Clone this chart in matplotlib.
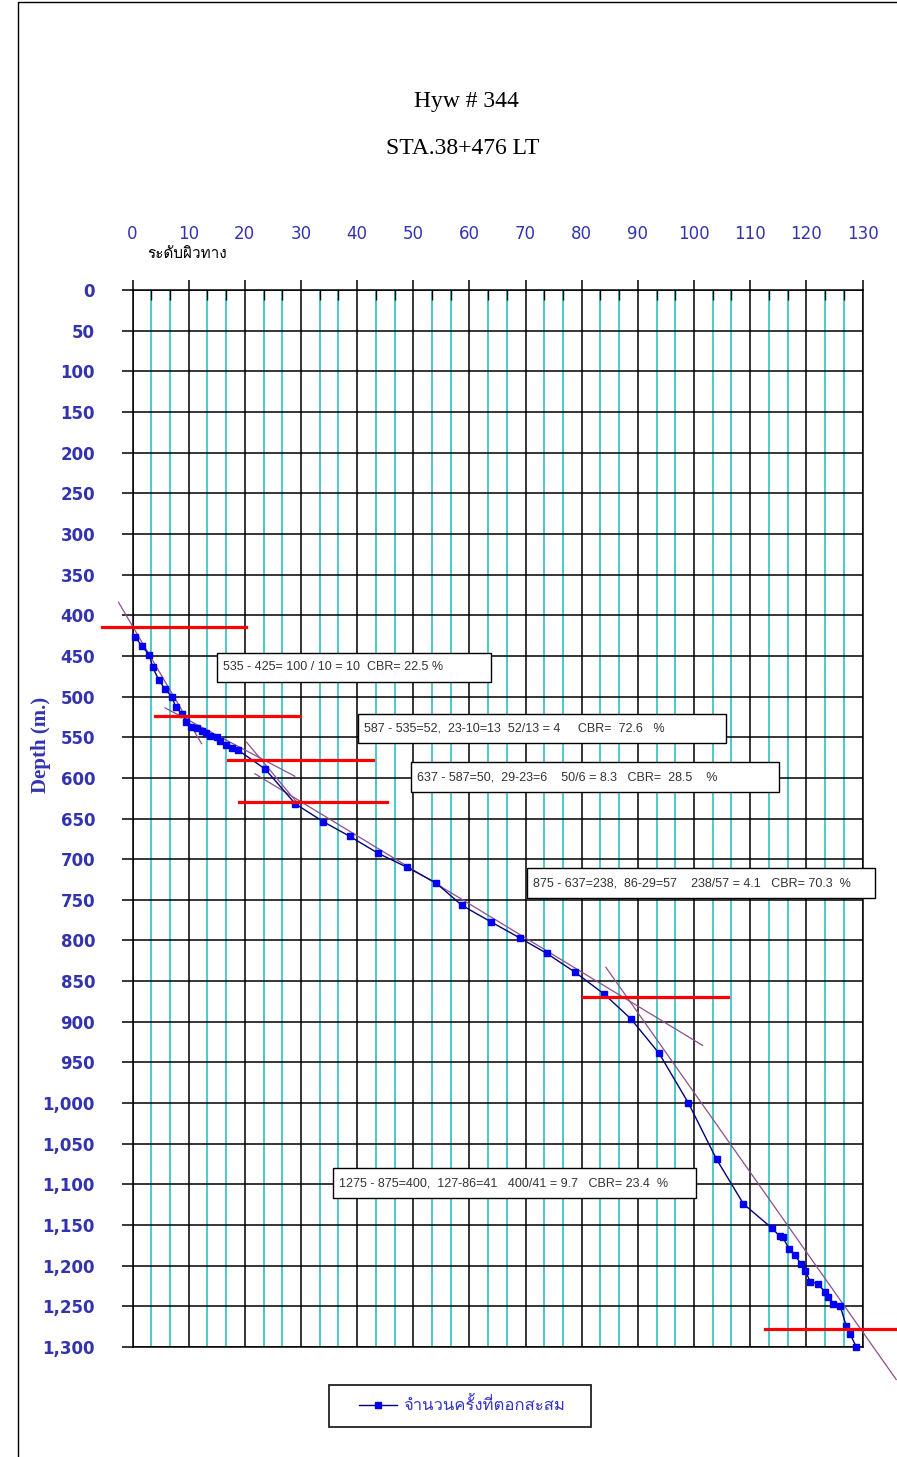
import matplotlib
matplotlib.use('Agg')
import matplotlib.pyplot as plt
from matplotlib import font_manager
from matplotlib.ft2font import FT2Font
from matplotlib.patches import Rectangle
from matplotlib.ticker import FixedLocator, FuncFormatter


# cumulative blow count vs penetration depth (mm)
blows = [0.5, 1.7, 3.0, 3.6, 4.7, 5.8, 7.0, 7.7, 8.8, 9.6,
         10.5, 11.4, 12.3, 13.1, 13.8, 15.0, 15.6, 16.6, 17.8, 18.8,
         23.6, 29.0, 34.0, 38.7, 43.8, 48.9, 54.0, 58.7, 63.8, 69.0,
         73.8, 78.8, 84.0, 88.7, 93.8, 99.0, 104.0, 108.8, 113.9, 115.3,
         115.8, 116.9, 117.9, 119.1, 119.8, 120.7, 122.0, 123.3, 123.8, 124.8,
         126.0, 127.1, 127.8, 128.9]
depth = [427, 438, 449, 464, 480, 491, 500, 513, 521, 531,
         537, 539, 542, 545, 548, 550, 555, 560, 563, 566,
         589, 632, 654, 672, 693, 710, 729, 757, 777, 797,
         816, 839, 866, 896, 939, 1000, 1069, 1124, 1154, 1164,
         1165, 1179, 1187, 1198, 1206, 1220, 1222, 1232, 1239, 1247,
         1249, 1274, 1284, 1300]

# layer boundaries (red markers)
layer_depth = [415, 524, 578, 630, 870, 1278]
layer_x0 = [-5.5, 4.0, 17.0, 19.0, 80.2, 112.6]
layer_x1 = [20.3, 29.8, 42.9, 45.4, 106.1, 137.0]

# slope lines for each layer (x0, d0, x1, d1)
slope_x0 = [-2.5, 5.8, 20.3, 21.8, 84.3]
slope_d0 = [384, 514, 556, 595, 833]
slope_x1 = [12.3, 28.9, 29.5, 101.5, 136.0]
slope_d1 = [558, 598, 632, 929, 1340]

# CBR calculation notes
notes = ['535 - 425= 100 / 10 = 10  CBR= 22.5 %',
         '587 - 535=52,  23-10=13  52/13 = 4     CBR=  72.6   %',
         '637 - 587=50,  29-23=6    50/6 = 8.3   CBR=  28.5    %',
         '875 - 637=238,  86-29=57    238/57 = 4.1   CBR= 70.3  %',
         '1275 - 875=400,  127-86=41   400/41 = 9.7   CBR= 23.4  %']
note_x0 = [15.1, 40.2, 49.6, 70.25, 35.7]
note_x1 = [63.9, 105.7, 115.2, 132.2, 100.3]
note_d0 = [446, 522, 581, 711, 1080]
note_d1 = [482, 557, 618, 748, 1117]

xticks = list(range(0, 131, 10))
yticks = list(range(0, 1301, 50))


def thai_font():
    for f in font_manager.fontManager.ttflist:
        try:
            if FT2Font(f.fname).get_char_index(0x0E01):
                return f.name
        except Exception:
            pass
    return 'DejaVu Sans'


THAI = thai_font()
BLUE = '#3333B0'
W, H = 897, 1457

fig = plt.figure(figsize=(W / 100, H / 100), dpi=100)
ax = fig.add_axes([132.5 / W, 1 - 1347 / H, 730 / W, 1057 / H])

ax.set_xlim(0, 130)
ax.set_ylim(1300, 0)
ax.xaxis.tick_top()
ax.xaxis.set_major_locator(FixedLocator(xticks))
ax.xaxis.set_minor_locator(FixedLocator([m + k * 10 / 3 for m in xticks[:-1] for k in (1, 2)]))
ax.yaxis.set_major_locator(FixedLocator(yticks))
ax.yaxis.set_major_formatter(FuncFormatter(lambda v, p: f'{int(v):,}'))

ax.set_axisbelow(True)
ax.grid(which='major', color='black', lw=1.1)
ax.grid(which='minor', axis='x', color='#3CC6C6', lw=1.3)

ax.tick_params(axis='x', which='major', direction='out', length=7, width=1.1,
               pad=27, labelsize=12, labelcolor=BLUE)
ax.tick_params(axis='x', which='minor', direction='in', length=7, width=1.0, color='black')
ax.tick_params(axis='y', direction='out', length=8, width=1.1, pad=19,
               labelsize=12, labelcolor=BLUE)
for lab in ax.get_yticklabels():
    lab.set_fontweight('bold')
for sp in ax.spines.values():
    sp.set_color('black')
    sp.set_linewidth(1.1)

# blow count curve
ax.plot(blows, depth, color='#000080', lw=1.0, marker='s', ms=4,
        mfc='#0000EE', mec='#0000EE', zorder=4, clip_on=False,
        label='จำนวนครั้งที่ตอกสะสม')

for xa, da, xb, db in zip(slope_x0, slope_d0, slope_x1, slope_d1):
    ax.plot([xa, xb], [da, db], color='#8E4E8E', lw=0.9, zorder=3, clip_on=False)

for d, xa, xb in zip(layer_depth, layer_x0, layer_x1):
    ax.plot([xa, xb], [d, d], color='#FF0000', lw=2.3, zorder=5, clip_on=False)

for txt, xa, xb, da, db in zip(notes, note_x0, note_x1, note_d0, note_d1):
    ax.add_patch(Rectangle((xa, da), xb - xa, db - da, facecolor='white',
                           edgecolor='black', lw=1.0, zorder=6, clip_on=False))
    ax.text(xa + 1.0, (da + db) / 2, txt, ha='left', va='center', fontsize=9,
            family='Liberation Sans', color='#333333', zorder=7, clip_on=False)

ax.set_ylabel('Depth (m.)', family='Liberation Serif', fontweight='bold',
              fontsize=15, color=BLUE)
ax.yaxis.set_label_coords(-(132.5 - 51) / 730, 1 - (745 - 290) / 1057)

fig.text(466 / W, 1 - 101 / H, 'Hyw # 344', ha='center', va='center',
         fontsize=17, family='Liberation Serif')
fig.text(463 / W, 1 - 149 / H, 'STA.38+476 LT', ha='center', va='center',
         fontsize=17, family='Liberation Serif')
fig.text(187 / W, 1 - 254 / H, 'ระดับผิวทาง', ha='center', va='center',
         fontsize=11, family=[THAI, 'DejaVu Sans'])

# legend frame is drawn separately so it can be wider than its contents
fig.patches.append(Rectangle((329 / W, 1 - 1427 / H), 262 / W, 42 / H,
                             transform=fig.transFigure, facecolor='white',
                             edgecolor='#222222', lw=1.3))
leg = fig.legend(loc='center', bbox_to_anchor=(462 / W, 1 - 1406 / H),
                 frameon=False, handlelength=2.3, handletextpad=0.4,
                 prop={'family': [THAI, 'DejaVu Sans'], 'size': 12})
for t in leg.get_texts():
    t.set_color('#3333CC')

# page border
fig.patches.append(Rectangle((18 / W, -0.05), 1.2, 1.05 - 2 / H, transform=fig.transFigure,
                             fill=False, edgecolor='black', lw=1.0))

fig.savefig('out.png', dpi=100)
